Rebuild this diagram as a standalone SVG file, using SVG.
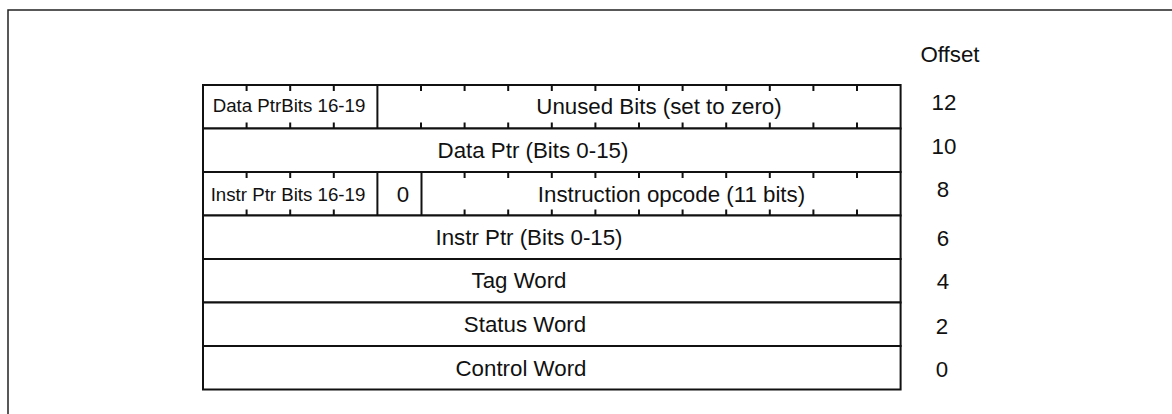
<svg xmlns="http://www.w3.org/2000/svg" width="1172" height="414" viewBox="0 0 1172 414">
<style>
.box{fill:#fff;stroke:#111;stroke-width:2}
.div{stroke:#111;stroke-width:2}
.tk{stroke:#111;stroke-width:2}
.t{font-family:"Liberation Sans",Arial,sans-serif;font-size:22.3px;fill:#111;text-anchor:middle}
.s{font-family:"Liberation Sans",Arial,sans-serif;font-size:18.7px;fill:#111;text-anchor:middle}
.o{font-family:"Liberation Sans",Arial,sans-serif;font-size:22.3px;fill:#111;text-anchor:middle}
</style>
<rect width="1172" height="414" fill="#fff"/>
<g id="frame"><path d="M8,414 V10 H1172" fill="none" stroke="#222" stroke-width="1.5"/></g>
<g id="row12">
<rect class="box" x="203" y="85" width="697.6" height="43.5"/>
<line class="div" x1="377.4" y1="85" x2="377.4" y2="128.5"/>
<path class="tk" d="M246.6,85v6M290.2,85v6M333.8,85v6M421,85v6M464.6,85v6M508.2,85v6M551.8,85v6M595.4,85v6M639,85v6M682.6,85v6M726.2,85v6M769.8,85v6M813.4,85v6M857,85v6M246.6,128.5v-6M290.2,128.5v-6M333.8,128.5v-6M421,128.5v-6M464.6,128.5v-6M508.2,128.5v-6M551.8,128.5v-6M595.4,128.5v-6M639,128.5v-6M682.6,128.5v-6M726.2,128.5v-6M769.8,128.5v-6M813.4,128.5v-6M857,128.5v-6"/>
<text class="s" x="289" y="112">Data PtrBits 16-19</text>
<text class="t" x="659" y="113.5">Unused Bits (set to zero)</text>
</g>
<g id="row10">
<rect class="box" x="203" y="128.5" width="697.6" height="43.5"/>
<text class="t" x="533" y="158">Data Ptr (Bits 0-15)</text>
</g>
<g id="row8">
<rect class="box" x="203" y="172" width="697.6" height="43.5"/>
<line class="div" x1="377.4" y1="172" x2="377.4" y2="215.5"/>
<line class="div" x1="421.5" y1="172" x2="421.5" y2="215.5"/>
<path class="tk" d="M246.6,172v6M290.2,172v6M333.8,172v6M464.6,172v6M508.2,172v6M551.8,172v6M595.4,172v6M639,172v6M682.6,172v6M726.2,172v6M769.8,172v6M813.4,172v6M857,172v6M246.6,215.5v-6M290.2,215.5v-6M333.8,215.5v-6M464.6,215.5v-6M508.2,215.5v-6M551.8,215.5v-6M595.4,215.5v-6M639,215.5v-6M682.6,215.5v-6M726.2,215.5v-6M769.8,215.5v-6M813.4,215.5v-6M857,215.5v-6"/>
<text class="s" x="288" y="201">Instr Ptr Bits 16-19</text>
<text class="t" x="403" y="201.5">0</text>
<text class="t" x="671.5" y="201.5">Instruction opcode (11 bits)</text>
</g>
<g id="row6">
<rect class="box" x="203" y="215.5" width="697.6" height="43.5"/>
<text class="t" x="529" y="245">Instr Ptr (Bits 0-15)</text>
</g>
<g id="row4">
<rect class="box" x="203" y="259" width="697.6" height="43.5"/>
<text class="t" x="519" y="288">Tag Word</text>
</g>
<g id="row2">
<rect class="box" x="203" y="302.5" width="697.6" height="43.5"/>
<text class="t" x="525" y="332">Status Word</text>
</g>
<g id="row0">
<rect class="box" x="203" y="346" width="697.6" height="43.5"/>
<text class="t" x="521" y="376">Control Word</text>
</g>
<g id="offsets">
<text class="o" x="950" y="62">Offset</text>
<text class="o" x="944" y="110">12</text>
<text class="o" x="944" y="154">10</text>
<text class="o" x="943" y="197">8</text>
<text class="o" x="943" y="246">6</text>
<text class="o" x="943" y="289">4</text>
<text class="o" x="942" y="334">2</text>
<text class="o" x="942" y="377">0</text>
</g>
<g id="connectors"></g>
</svg>
